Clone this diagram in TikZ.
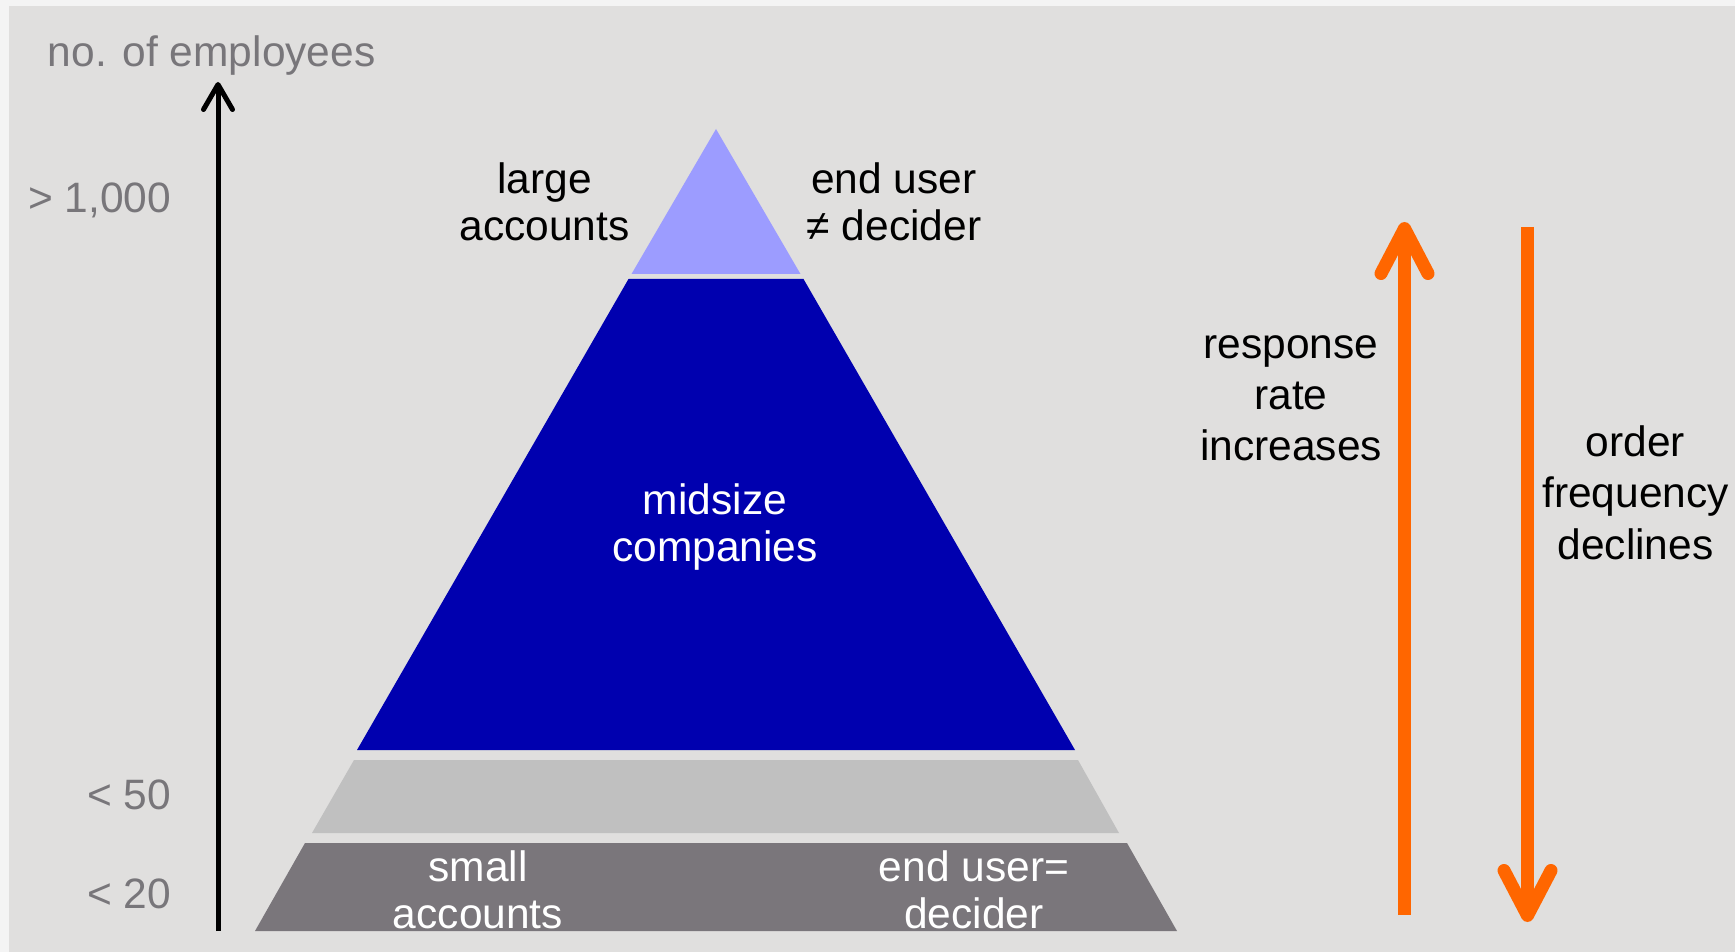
\documentclass[tikz,border=0pt]{standalone}
\usepackage{fontspec}
\setmainfont{Liberation Sans}
\usetikzlibrary{arrows.meta}

\definecolor{paper}{HTML}{F4F4F4}
\definecolor{canvas}{HTML}{E0DFDE}
\definecolor{scaleText}{HTML}{78767A}
\definecolor{tierTop}{HTML}{9C9CFF}
\definecolor{tierMid}{HTML}{0000AF}
\definecolor{tierLow}{HTML}{C0C0C0}
\definecolor{tierBase}{HTML}{7A767B}
\definecolor{trend}{HTML}{FF6600}

\begin{document}
\begin{tikzpicture}[x=0.5pt,y=-0.5pt,
  txt/.style={inner sep=0pt, align=center, font=\fontsize{21.25}{23.5}\selectfont},
  widetxt/.style={txt, font=\fontsize{21.25}{25.6}\selectfont},
  scalelabel/.style={inner sep=0pt, text=scaleText, font=\fontsize{21.25}{25}\selectfont},
  axisline/.style={line width=2.5pt, -{Straight Barb[length=12.5pt, width=14.5pt, round]}},
  trendline/.style={draw=trend, line width=6.5pt, -{Straight Barb[length=22.5pt, width=23.5pt, round]}}]

\useasboundingbox (0,0) rectangle (1735,952);

% sheet and canvas
\fill[paper] (0,0) rectangle (1735,952);
\fill[canvas] (9,6) rectangle (1735,952);

% pyramid tiers, from top to base
\fill[tierTop]  (716,129) -- (631.5,274) -- (800.5,274) -- cycle;
\fill[tierMid]  (628.5,279) -- (803.5,279) -- (1075,750) -- (357,750) -- cycle;
\fill[tierLow]  (354,760) -- (1078,760) -- (1119,833) -- (312,833) -- cycle;
\fill[tierBase] (305,843) -- (1127,843) -- (1177,931) -- (255,931) -- cycle;

% vertical scale
\coordinate (axisBase) at (218,931);
\coordinate (axisTip)  at (218,82);
\draw[axisline] (axisBase) -- (axisTip);

\node[scalelabel, anchor=base west] (axisTitle) at (47.5,67) {no. of employees};
\node[scalelabel, anchor=base east] (scaleHigh) at (171.5,213) {> 1,000};
\node[scalelabel, anchor=base east] (scaleMid)  at (171.5,809) {< 50};
\node[scalelabel, anchor=base east] (scaleLow)  at (171.5,908) {< 20};

% tier labels (anchored at the baseline of their last line)
\node[txt, anchor=base] (large)   at (544.5,241) {large\\accounts};
\node[txt, anchor=base] (remote)  at (894,241) {end user\\≠ decider};
\node[txt, anchor=base, text=white] (midsize) at (715,561) {midsize\\companies};
\node[txt, anchor=base, text=white] (small)   at (478,928) {small\\accounts};
\node[txt, anchor=base, text=white] (direct)  at (974,928) {end user=\\decider};

% trend arrows
\coordinate (upFoot)   at (1404.5,915);
\coordinate (upTip)    at (1404.5,222);
\coordinate (downTop)  at (1527.5,227);
\coordinate (downTip)  at (1527.5,922);
\draw[trendline] (upFoot) -- (upTip);
\draw[trendline] (downTop) -- (downTip);

\node[widetxt, anchor=base] (response) at (1291,460.5) {response\\rate\\increases};
\node[widetxt, anchor=base] (orders)   at (1635.5,559) {order\\frequency\\declines};
\end{tikzpicture}
\end{document}
